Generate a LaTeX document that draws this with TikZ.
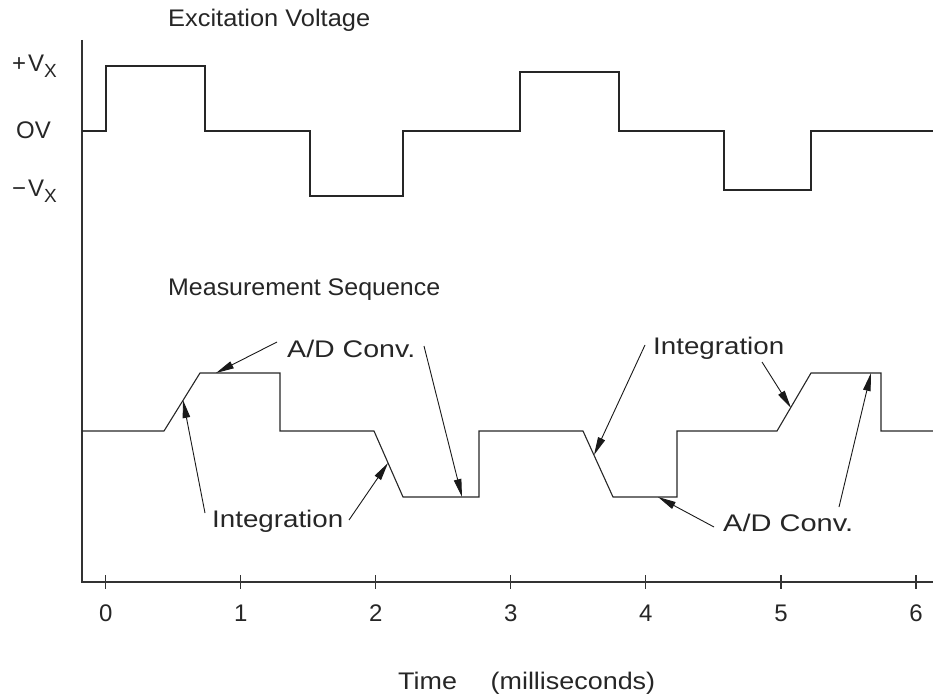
\documentclass[tikz,border=0pt]{standalone}
\usepackage{fontspec}
\setmainfont{Liberation Sans}
\usetikzlibrary{arrows.meta,calc}
\newcommand\fitw[2]{\resizebox{#1pt}{\height}{#2}}
\begin{document}
\begin{tikzpicture}[x=1pt,y=-1pt,
  wave/.style={line width=1.1pt, line join=miter, draw=black!85},
  axisline/.style={line width=1.1pt, draw=black!80},
  lbl/.style={inner sep=0pt, font=\fontsize{24}{24}\selectfont, text=black!85, anchor=base west},
  digit/.style={inner sep=0pt, font=\fontsize{24}{24}\selectfont, text=black!85, anchor=base},
  ptr/.style={line width=0.9pt, draw=black!90, -{Triangle[length=18pt,width=7.5pt]}},
]
\useasboundingbox (0,0) rectangle (933,700);

% axes
\coordinate (ytop) at (82,40);
\coordinate (org) at (82,582);
\coordinate (xend) at (933,582);
\draw[axisline] (ytop) -- (org) -- (xend);
\foreach \k in {0,...,6}{
  \coordinate (t\k) at ({105.7+135.05*\k},582);
  \draw[axisline] ($(t\k)+(0,-7)$) -- ($(t\k)+(0,7)$);
  \node[digit] (d\k) at ({105.7+135.05*\k},621.5) {\k};
}

% y labels
\node[lbl] (vp) at (12,72) {+\hspace{2pt}V\raisebox{-6pt}{\fontsize{19}{19}\selectfont X}};
\node[lbl] (v0) at (16,139) {OV};
\node[lbl] (vm) at (12,197) {−\hspace{2pt}V\raisebox{-6pt}{\fontsize{19}{19}\selectfont X}};

% titles
\node[lbl] (exc) at (168,27) {\fitw{202}{Excitation Voltage}};
\node[lbl] (meas) at (168,295) {\fitw{272}{Measurement Sequence}};
\node[lbl] (time) at (398,689) {\fitw{257}{Time\hspace{30pt}(milliseconds)}};

% excitation waveform
\draw[wave] (82,131) -- (106,131) -- (106,66) -- (205,66) -- (205,131)
  -- (310,131) -- (310,196) -- (403,196) -- (403,131)
  -- (520,131) -- (520,72) -- (619,72) -- (619,131)
  -- (724,131) -- (724,190) -- (811,190) -- (811,131) -- (933,131);

% measurement sequence waveform
\draw[wave] (82,431) -- (164,431) -- (200,373) -- (280,373) -- (280,431)
  -- (374,431) -- (403,497) -- (479,497) -- (479,431)
  -- (583,431) -- (613,497) -- (677,497) -- (677,431)
  -- (777,431) -- (811,373) -- (881,373) -- (881,431) -- (933,431);

% labels
\node[lbl] (adc1) at (287,357) {\fitw{128}{A/D Conv.}};
\node[lbl] (adc2) at (723,531) {\fitw{130}{A/D Conv.}};
\node[lbl] (int1) at (212,527) {\fitw{131}{Integration}};
\node[lbl] (int2) at (653,354) {\fitw{131}{Integration}};

% arrow tails and tips
\coordinate (a1s) at (277,342); \coordinate (a1e) at (216,373);
\coordinate (a2s) at (424,346); \coordinate (a2e) at (462,497);
\coordinate (i1s) at (205,513); \coordinate (i1e) at (183,400);
\coordinate (i2s) at (349,520); \coordinate (i2e) at (388,463);
\coordinate (i3s) at (645,345); \coordinate (i3e) at (594,455);
\coordinate (i4s) at (762,362); \coordinate (i4e) at (791,408);
\coordinate (a3s) at (714,527); \coordinate (a3e) at (658,497);
\coordinate (a4s) at (839,507); \coordinate (a4e) at (871,373);

\draw[ptr] (a1s) -- (a1e);
\draw[ptr] (a2s) -- (a2e);
\draw[ptr] (i1s) -- (i1e);
\draw[ptr] (i2s) -- (i2e);
\draw[ptr] (i3s) -- (i3e);
\draw[ptr] (i4s) -- (i4e);
\draw[ptr] (a3s) -- (a3e);
\draw[ptr] (a4s) -- (a4e);
\end{tikzpicture}
\end{document}
